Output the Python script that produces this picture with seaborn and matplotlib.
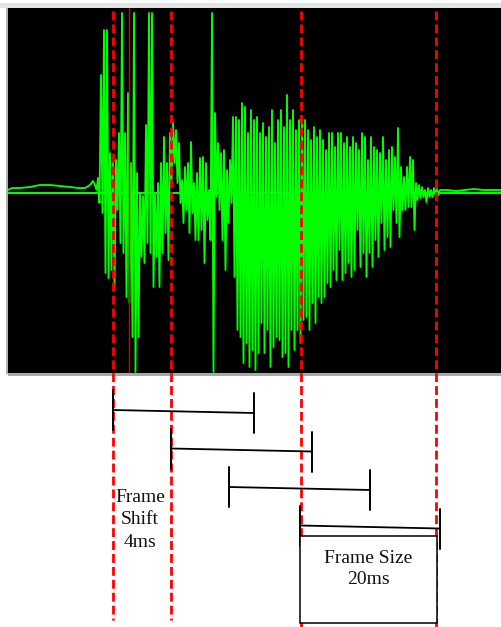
"""
Speech waveform with overlapping analysis frames (frame size / frame shift)
"""

import numpy as np
import pandas as pd
import matplotlib.pyplot as plt
import seaborn as sns
from matplotlib.patches import Rectangle

# --- data (x in screen-like units, amplitude relative to the zero line) ---
# quiet lead-in before the onset
lead_x = [8, 12, 20, 30, 40, 50, 60, 70, 78, 85, 90, 93]
lead_y = [3, 5, 5, 6, 8, 8, 7, 6, 5, 5, 8, 12]

# active part: one column every 3 units, peak (upper) and trough (lower) amplitude
wave_start = 95
wave_step = 3
wave_upper = [8, 15, 118, 163, 163, 40, 30, 33, 60, 180, 60, 100, 30, 180, 20, 0,
              -3, 68, 180, 180, 0, 10, 30, 56, 30, 60, 70, 63, 50, 13, 26, 30,
              51, 10, 20, 35, 36, 30, 3, 180, 80, 50, 40, 43, 23, 33, 76, 76,
              73, 90, 86, 60, 83, 73, 76, 60, 70, 56, 66, 83, 50, 73, 83, 66,
              98, 73, 83, 63, 73, 73, 73, 63, 53, 66, 56, 63, 53, 43, 60, 60,
              46, 60, 60, 50, 56, 46, 56, 50, 43, 60, 56, 33, 56, 46, 43, 40,
              56, 33, 43, 46, 36, 65, 26, 16, 26, 36, 33, 10, 8, 6, 3, 5,
              3, 5, 4]
wave_lower = [3, -10, -20, -80, -85, -77, -94, -17, -50, -60, -104, -110, -144, -179, -144, -64,
              -70, -50, -60, -94, -64, -94, -60, -40, -67, 10, 30, 10, -10, -30, -17, -40,
              -20, -47, -47, -37, -70, -27, -47, -179, -4, -17, -47, -77, -30, -10, -84, -137,
              -144, -170, -150, -174, -157, -177, -160, -130, -160, -137, -174, -154, -144, -147, -164, -160,
              -174, -137, -157, -137, -150, -127, -124, -137, -110, -130, -104, -110, -104, -90, -94, -77,
              -87, -57, -87, -80, -70, -84, -77, -37, -74, -60, -84, -60, -74, -47, -64, -30,
              -57, -44, -54, -17, -30, -44, -17, -17, -14, -14, -37, -7, -5, -4, -9, -4,
              -4, -2, -2]

# decaying tail after the word
tail_x = [440, 448, 456, 465, 474, 483, 492, 502]
tail_y = [3, 3, 2, 3, 4, 3, 3, 3]

# analysis frames
frame_starts = [113, 171, 229, 300]
frame_ends = [254, 312, 370, 440]
boundary_x = [113, 171, 301, 436]
boundary_bottom = [620, 620, 627, 627]
pitch_mark_x = 129

GREEN = '#00ff00'
RED = '#ff0000'


def main():
    sns.set_style('white')
    plt.rcParams['font.family'] = ['Liberation Serif', 'DejaVu Serif']

    fig = plt.figure(figsize=(5.02, 6.27), dpi=100)

    # waveform panel
    x_pos = np.arange(len(wave_upper)) * wave_step + wave_start
    xs = np.column_stack([x_pos, x_pos + wave_step / 2]).ravel()
    ys = np.column_stack([wave_upper, wave_lower]).ravel()
    df = pd.DataFrame({
        'x': np.concatenate([lead_x, xs, tail_x]),
        'amp': np.concatenate([lead_y, ys, tail_y]),
    })

    ax = fig.add_axes([8 / 502, (627 - 373) / 627, 494 / 502, 365 / 627])
    ax.set_facecolor('black')
    ax.axhline(0, color=GREEN, lw=1.4, zorder=1)
    sns.lineplot(data=df, x='x', y='amp', sort=False, estimator=None,
                 color=GREEN, lw=1.35, ax=ax, zorder=2)
    ax.axvline(pitch_mark_x, color='#e00000', lw=1.0, zorder=3)
    ax.set_xlim(8, 502)
    ax.set_ylim(-180, 185)
    ax.set_xticks([])
    ax.set_yticks([])
    ax.set_xlabel('')
    ax.set_ylabel('')
    for s in ax.spines.values():
        s.set_visible(False)

    # overlay in screen-like units for frames and annotations
    ov = fig.add_axes([0, 0, 1, 1], facecolor='none')
    ov.set_xlim(0, 502)
    ov.set_ylim(627, 0)
    ov.axis('off')

    # window chrome around the waveform panel
    ov.add_patch(Rectangle((0, 3), 502, 5, color='#e4e4e4', lw=0))
    ov.add_patch(Rectangle((8, 373), 494, 3, color='#a8a8a8', lw=0))
    ov.add_patch(Rectangle((6.5, 8), 1.5, 366, color='#b0b0b0', lw=0))

    # frame boundaries
    for bx, yb in zip(boundary_x, boundary_bottom):
        ov.plot([bx, bx], [11, yb], color=RED, lw=2.0, dashes=(3.2, 1.45))

    # frame brackets
    row_gap = 38.5
    for i, (x0, x1) in enumerate(zip(frame_starts, frame_ends)):
        yc = 410 + i * row_gap
        ov.plot([x0, x1], [yc, yc + 3], color='black', lw=1.3)
        ov.plot([x0, x0], [yc - 20, yc + 20], color='black', lw=1.4)
        ov.plot([x1, x1], [yc - 17, yc + 23], color='black', lw=1.4)

    ov.add_patch(Rectangle((frame_starts[-1], 536), boundary_x[-1] + 1 - frame_starts[-1], 87,
                           facecolor='white', edgecolor='black', lw=1.1, zorder=3))

    ov.text(140, 520, 'Frame\nShift\n4ms', ha='center', va='center',
            fontsize=14, linespacing=1.42, color='#111111')
    ov.text(368, 569, 'Frame Size\n20ms', ha='center', va='center',
            fontsize=14, linespacing=1.35, color='#111111', zorder=4)

    fig.savefig('out.png', dpi=100, facecolor='white')
    plt.close('all')


if __name__ == '__main__':
    main()
